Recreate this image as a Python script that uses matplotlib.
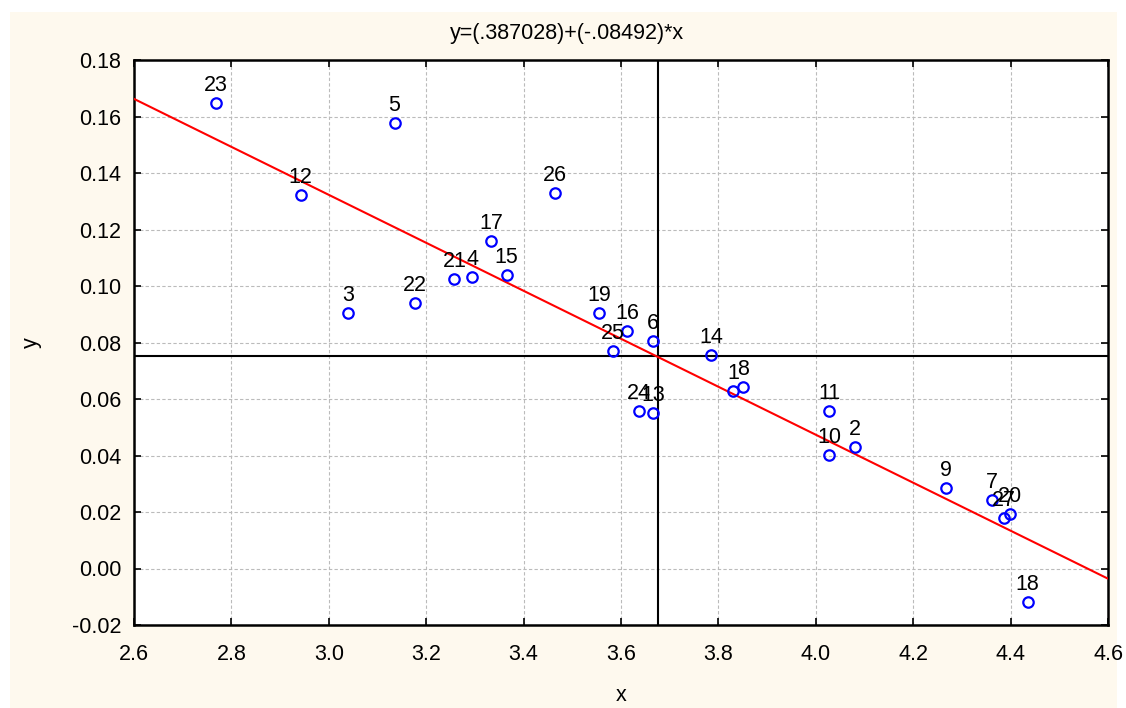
import matplotlib
matplotlib.use("Agg")
import matplotlib.pyplot as plt
import numpy as np
from matplotlib.patches import Rectangle

# ---- data ----
case_ids = [23, 12, 5, 26, 17, 21, 4, 15, 3, 22, 19, 16, 6, 25, 14, 1, 8,
            24, 13, 11, 10, 2, 9, 7, 27, 20, 18]
x_vals = [2.769, 2.942, 3.135, 3.464, 3.333, 3.258, 3.295, 3.365, 3.040, 3.176,
          3.555, 3.612, 3.666, 3.584, 3.785, 3.830, 3.851, 3.637, 3.666, 4.028,
          4.028, 4.081, 4.267, 4.361, 4.386, 4.398, 4.435]
y_vals = [0.1648, 0.1322, 0.1577, 0.1329, 0.1159, 0.1025, 0.1032, 0.1039, 0.0904,
          0.0940, 0.0904, 0.0841, 0.0805, 0.0770, 0.0756, 0.0628, 0.0643, 0.0558,
          0.0550, 0.0558, 0.0402, 0.0430, 0.0285, 0.0242, 0.0179, 0.0193, -0.0119]
intercept = 0.387028
slope = -0.08492
x_mean_line = 3.676
y_mean_line = 0.0752
x_ticks = [2.6, 2.8, 3.0, 3.2, 3.4, 3.6, 3.8, 4.0, 4.2, 4.4, 4.6]
y_ticks = [-0.02, 0.00, 0.02, 0.04, 0.06, 0.08, 0.10, 0.12, 0.14, 0.16, 0.18]
title_text = "y=(.387028)+(-.08492)*x"

plt.rcParams['font.family'] = ['Liberation Sans', 'DejaVu Sans']
FS = 15.5

W, H = 1126, 708
fig = plt.figure(figsize=(W / 100, H / 100), dpi=100, facecolor='white')
# cream page background
fig.patches.append(Rectangle((10 / W, 0), (1117 - 10) / W, (H - 12) / H,
                             transform=fig.transFigure, facecolor='#FEF9EE',
                             edgecolor='none', zorder=-10))

ax = fig.add_axes([134 / W, 1 - 625 / H, (1108 - 134) / W, (625 - 60) / H])
ax.set_zorder(1)
ax.set_facecolor('white')
ax.set_xlim(2.6, 4.6)
ax.set_ylim(-0.02, 0.18)

ax.set_xticks(x_ticks)
ax.set_xticklabels([f"{t:.1f}" for t in x_ticks])
ax.set_yticks(y_ticks)
ax.set_yticklabels([f"{t:.2f}" for t in y_ticks])
ax.tick_params(direction='in', length=5, width=1.2, top=True, right=True,
               labelsize=FS, colors='black', pad=9)
ax.tick_params(axis='x', pad=14)
ax.grid(True, color='#BBBBBB', linestyle=(0, (3, 2)), linewidth=0.8)
ax.set_axisbelow(True)
for s in ax.spines.values():
    s.set_linewidth(1.8)
    s.set_color('black')

# mean cross-hair
ax.axvline(x_mean_line, color='black', lw=1.5, zorder=2)
ax.axhline(y_mean_line, color='black', lw=1.5, zorder=2)

# regression line
xl = np.array([2.6, 4.6])
ax.plot(xl, intercept + slope * xl, color='#FF0000', lw=1.5, zorder=3)

# points
ax.plot(x_vals, y_vals, linestyle='none', marker='o', markersize=7.5,
        markerfacecolor='none', markeredgecolor='#0000FF', markeredgewidth=1.6,
        zorder=4)
for cid, xv, yv in zip(case_ids, x_vals, y_vals):
    ax.annotate(str(cid), (xv, yv), xytext=(0, 8.5), textcoords='offset points',
                ha='center', va='baseline', fontsize=FS, color='black', zorder=5)

ax.set_xlabel('x', fontsize=FS, labelpad=14)
ax.set_ylabel('y', fontsize=FS, labelpad=22)
fig.text(567 / W, 1 - 33 / H, title_text, ha='center', va='center', fontsize=FS)

fig.savefig('out.png', dpi=100, facecolor=fig.get_facecolor())
